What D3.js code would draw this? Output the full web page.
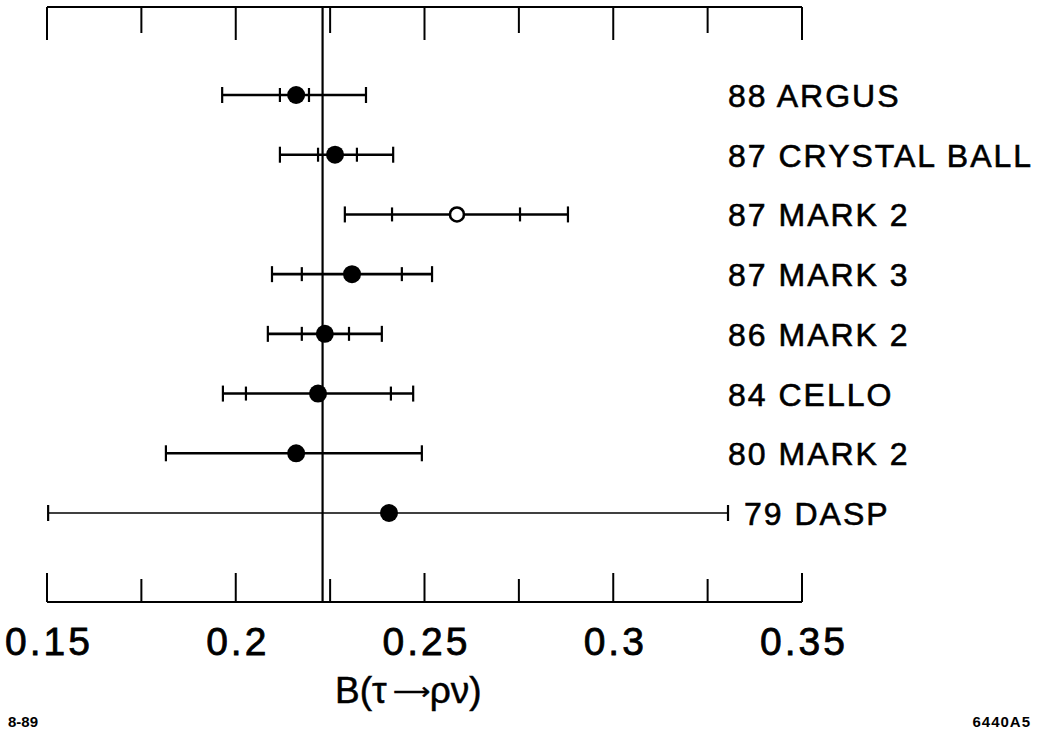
<!DOCTYPE html>
<html>
<head>
<meta charset="utf-8">
<script src="https://cdn.jsdelivr.net/npm/d3@7"></script>
<style>
  body { margin: 0; background: #fff; }
  svg { display: block; font-family: "Liberation Sans", Arial, Helvetica, sans-serif; }
</style>
</head>
<body>
<svg id="chart" width="1041" height="739"></svg>
<script>
// measurements, top row first
var experiments = ["88 ARGUS", "87 CRYSTAL BALL", "87 MARK 2", "87 MARK 3", "86 MARK 2", "84 CELLO", "80 MARK 2", "79 DASP"];
var central  = [0.2160, 0.2263, 0.2586, 0.2308, 0.2236, 0.2218, 0.2160, 0.2406];
var statLow  = [0.2117, 0.2218, 0.2414, 0.2175, 0.2175, 0.2027, null, null];
var statHigh = [0.2194, 0.2321, 0.2753, 0.2440, 0.2300, 0.2411, null, null];
var totLow   = [0.1964, 0.2117, 0.2289, 0.2096, 0.2085, 0.1966, 0.1815, 0.1503];
var totHigh  = [0.2345, 0.2417, 0.2880, 0.2520, 0.2387, 0.2470, 0.2493, 0.3304];
var openMark = [false, false, true, false, false, false, false, false];

var refValue = 0.2230;
var majorTicks = [0.15, 0.2, 0.25, 0.3, 0.35];
var minorTicks = [0.175, 0.225, 0.275, 0.325];
var tickLabels = ["0.15", "0.2", "0.25", "0.3", "0.35"];

var svg = d3.select("#chart");

var x = d3.scaleLinear().domain([0.15, 0.35]).range([47, 802]);
var y = d3.scalePoint().domain(experiments).range([95, 513]);

var yTop = 7, yBottom = 602;

// top and bottom axis lines
svg.append("line").attr("x1", x(0.15)).attr("x2", x(0.35)).attr("y1", yTop).attr("y2", yTop)
  .attr("stroke", "#000").attr("stroke-width", 2.2);
svg.append("line").attr("x1", x(0.15)).attr("x2", x(0.35)).attr("y1", yBottom).attr("y2", yBottom)
  .attr("stroke", "#000").attr("stroke-width", 2.2);

// ticks
majorTicks.forEach(function(t) {
  svg.append("line").attr("x1", x(t)).attr("x2", x(t)).attr("y1", yTop).attr("y2", yTop + 33)
    .attr("stroke", "#000").attr("stroke-width", 2);
  svg.append("line").attr("x1", x(t)).attr("x2", x(t)).attr("y1", yBottom).attr("y2", yBottom - 29)
    .attr("stroke", "#000").attr("stroke-width", 2);
});
minorTicks.forEach(function(t) {
  svg.append("line").attr("x1", x(t)).attr("x2", x(t)).attr("y1", yTop).attr("y2", yTop + 26)
    .attr("stroke", "#000").attr("stroke-width", 2);
  svg.append("line").attr("x1", x(t)).attr("x2", x(t)).attr("y1", yBottom).attr("y2", yBottom - 23)
    .attr("stroke", "#000").attr("stroke-width", 2);
});

// tick labels
majorTicks.forEach(function(t, i) {
  svg.append("text").attr("x", x(t) + 2).attr("y", 655)
    .attr("text-anchor", "middle").attr("font-size", 39).attr("letter-spacing", 3)
    .attr("stroke", "#000").attr("stroke-width", 0.8)
    .text(tickLabels[i]);
});

// reference vertical line
svg.append("line").attr("x1", x(refValue)).attr("x2", x(refValue)).attr("y1", yTop).attr("y2", yBottom)
  .attr("stroke", "#000").attr("stroke-width", 2.2);

// error bars
experiments.forEach(function(name, i) {
  var yy = y(name);
  var thin = name == "79 DASP";
  svg.append("line").attr("x1", x(totLow[i])).attr("x2", x(totHigh[i])).attr("y1", yy).attr("y2", yy)
    .attr("stroke", "#000").attr("stroke-width", thin ? 1.6 : 2.6);
  [totLow[i], totHigh[i]].forEach(function(v) {
    svg.append("line").attr("x1", x(v)).attr("x2", x(v)).attr("y1", yy - 8).attr("y2", yy + 8)
      .attr("stroke", "#000").attr("stroke-width", 2.2);
  });
  if (statLow[i] != null) {
    [statLow[i], statHigh[i]].forEach(function(v) {
      svg.append("line").attr("x1", x(v)).attr("x2", x(v)).attr("y1", yy - 7).attr("y2", yy + 7)
        .attr("stroke", "#000").attr("stroke-width", 2.2);
    });
  }
  if (openMark[i]) {
    svg.append("circle").attr("cx", x(central[i])).attr("cy", yy).attr("r", 7)
      .attr("fill", "#fff").attr("stroke", "#000").attr("stroke-width", 2.6);
  } else {
    svg.append("circle").attr("cx", x(central[i])).attr("cy", yy).attr("r", 9)
      .attr("fill", "#000");
  }
  // label sits after the bar when the bar runs into the label column
  var lx = Math.max(728, x(totHigh[i]) + 16);
  svg.append("text").attr("x", lx).attr("y", yy + 12)
    .attr("font-size", 32).attr("letter-spacing", 2)
    .attr("stroke", "#000").attr("stroke-width", 0.6)
    .text(name);
});

// axis title
var title = svg.append("text").attr("x", 335).attr("y", 703).attr("font-size", 37)
  .attr("stroke", "#000").attr("stroke-width", 0.5);
title.append("tspan").text("B(τ");
title.append("tspan").attr("font-size", 26).attr("dx", 6).attr("dy", -3).text("⟶");
title.append("tspan").attr("dy", 3).text("ρν)");

// corner marks
svg.append("text").attr("x", 8).attr("y", 727).attr("font-size", 15).attr("font-weight", "bold").text("8-89");
svg.append("text").attr("x", 1031).attr("y", 727).attr("font-size", 15).attr("font-weight", "bold")
  .attr("text-anchor", "end").attr("letter-spacing", 1).text("6440A5");
</script>
</body>
</html>
